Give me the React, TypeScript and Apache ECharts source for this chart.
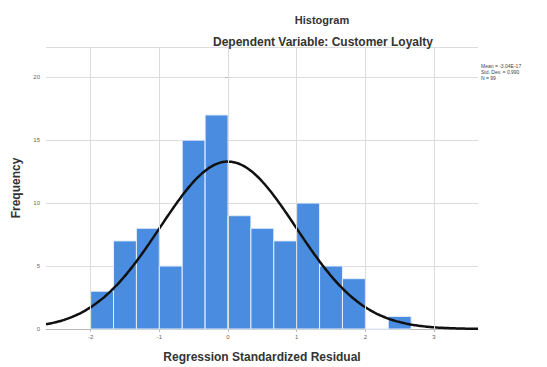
import React, { useEffect, useRef } from "react";
import * as echarts from "echarts";

const binStarts = [-2, -1.6667, -1.3333, -1, -0.6667, -0.3333, 0, 0.3333, 0.6667, 1, 1.3333, 1.6667, 2, 2.3333];
const binWidth = 1 / 3;
const frequencies = [3, 7, 8, 5, 15, 17, 9, 8, 7, 10, 5, 4, 0, 1];
const xTicks = [-2, -1, 0, 1, 2, 3];
const stats = { mean: 0, sd: 0.99, n: 99 };
const legendLines = ["Mean = -3.04E-17", "Std. Dev. = 0.990", "N = 99"];
const xMin = -2.65;
const xMax = 3.64;

function normalCurve(): number[][] {
  const pts: number[][] = [];
  const steps = 160;
  for (let i = 0; i <= steps; i++) {
    const x = xMin + ((xMax - xMin) * i) / steps;
    const z = (x - stats.mean) / stats.sd;
    const y = (stats.n * binWidth * Math.exp(-0.5 * z * z)) / (stats.sd * Math.sqrt(2 * Math.PI));
    pts.push([x, y]);
  }
  return pts;
}

export default function App() {
  const ref = useRef<HTMLDivElement>(null);
  useEffect(() => {
    if (!ref.current) return;
    const chart = echarts.init(ref.current, undefined, { renderer: "svg" });
    const barData = binStarts.map((s, i) => [s, s + binWidth, frequencies[i]]);
    const font = "Liberation Sans, Arial, sans-serif";
    chart.setOption({
      animation: false,
      backgroundColor: "#ffffff",
      title: [
        {
          text: "Histogram",
          left: 317,
          top: 9,
          textAlign: "center",
          textStyle: { fontFamily: font, fontSize: 11, fontWeight: "bold", color: "#333" },
        },
        {
          text: "Dependent Variable: Customer Loyalty",
          left: 318,
          top: 31,
          textAlign: "center",
          textStyle: { fontFamily: font, fontSize: 12, fontWeight: "bold", color: "#333" },
        },
      ],
      graphic: [
        {
          type: "text",
          left: 481,
          top: 63,
          style: {
            text: legendLines.join("\n"),
            font: "5px Liberation Sans, Arial",
            fill: "#444",
            lineHeight: 6,
          },
        },
      ],
      grid: { left: 46, right: 69, top: 47, bottom: 38, outerBoundsMode: "none", containLabel: false },
      xAxis: {
        type: "value",
        min: xMin,
        max: xMax,
        name: "Regression Standardized Residual",
        nameLocation: "middle",
        nameGap: 22,
        nameTextStyle: { fontFamily: font, fontSize: 12, fontWeight: "bold", color: "#333" },
        axisLine: { show: true, lineStyle: { color: "#bbb" } },
        axisTick: { show: true, customValues: xTicks, length: 3, lineStyle: { color: "#bbb" } },
        axisLabel: { customValues: xTicks, fontSize: 6, color: "#666", fontFamily: font, margin: 5 },
        splitLine: { show: false },
      },
      yAxis: {
        type: "value",
        min: 0,
        max: 22.4,
        interval: 5,
        name: "Frequency",
        nameLocation: "middle",
        nameGap: 24,
        nameTextStyle: { fontFamily: font, fontSize: 12, fontWeight: "bold", color: "#333" },
        axisLine: { show: true, lineStyle: { color: "#bbb" } },
        axisTick: { show: true, length: 3, lineStyle: { color: "#bbb" } },
        axisLabel: { fontSize: 6, color: "#666", fontFamily: font, showMaxLabel: false, margin: 6 },
        splitLine: { show: true, lineStyle: { color: "#dcdcdc" } },
      },
      series: [
        {
          type: "line",
          data: [],
          silent: true,
          markLine: {
            silent: true,
            symbol: "none",
            label: { show: false },
            lineStyle: { color: "#dcdcdc", type: "solid", width: 1 },
            data: xTicks.map((v) => ({ xAxis: v })),
          },
        },
        {
          type: "custom",
          data: barData,
          encode: { x: [0, 1], y: 2 },
          renderItem: (params: any, api: any) => {
            const p0 = api.coord([api.value(0), 0]);
            const p1 = api.coord([api.value(1), api.value(2)]);
            return {
              type: "rect",
              shape: { x: p0[0], y: p1[1], width: p1[0] - p0[0], height: p0[1] - p1[1] },
              style: { fill: "#4a8de0", stroke: "#e6eef9", lineWidth: 1 },
            };
          },
        },
        {
          type: "line",
          data: normalCurve(),
          showSymbol: false,
          smooth: true,
          lineStyle: { color: "#111", width: 2.5 },
          silent: true,
        },
      ],
    });
    return () => chart.dispose();
  }, []);
  return <div ref={ref} style={{ position: "absolute", left: 0, top: 0, width: 547, height: 367 }} />;
}
